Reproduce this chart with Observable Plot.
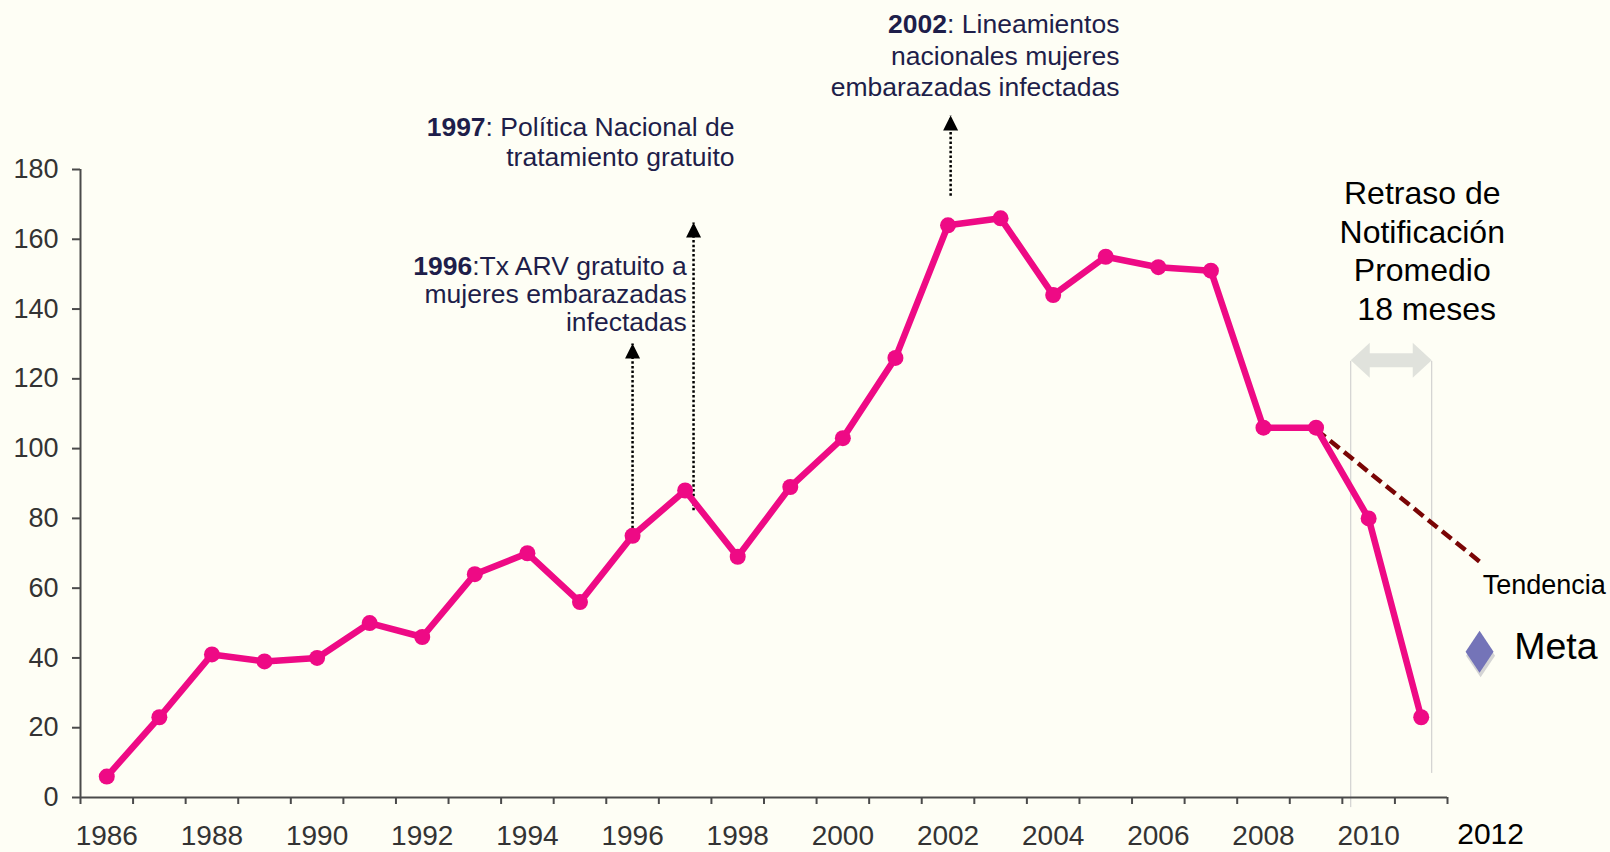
<!DOCTYPE html>
<html>
<head>
<meta charset="utf-8">
<script src="https://cdn.jsdelivr.net/npm/d3@7"></script>
<script src="https://cdn.jsdelivr.net/npm/@observablehq/plot@0.6"></script>
<style>
  html, body { margin: 0; padding: 0; background: #FEFEF5; }
  #chart { width: 1610px; height: 852px; }
</style>
</head>
<body>
<div id="chart"></div>
<script>
// ---- data ----
const years = [1986, 1987, 1988, 1989, 1990, 1991, 1992, 1993, 1994, 1995, 1996, 1997, 1998,
               1999, 2000, 2001, 2002, 2003, 2004, 2005, 2006, 2007, 2008, 2009, 2010, 2011];
const cases = [6, 23, 41, 39, 40, 50, 46, 64, 70, 56, 75, 88, 69,
               89, 103, 126, 164, 166, 144, 155, 152, 151, 106, 106, 80, 23];
const yTicks = [0, 20, 40, 60, 80, 100, 120, 140, 160, 180];
const xTickLabels = [1986, 1988, 1990, 1992, 1994, 1996, 1998, 2000, 2002, 2004, 2006, 2008, 2010];
const xBoundaries = [1985.5, 1986.5, 1987.5, 1988.5, 1989.5, 1990.5, 1991.5, 1992.5, 1993.5,
                     1994.5, 1995.5, 1996.5, 1997.5, 1998.5, 1999.5, 2000.5, 2001.5, 2002.5,
                     2003.5, 2004.5, 2005.5, 2006.5, 2007.5, 2008.5, 2009.5, 2010.5, 2011.5];
const trendFrom = {year: 2009, value: 105.5};
const trendTo = {year: 2012.13, value: 67.4};
const metaPoint = {year: 2012.11, value: 41.8};
const annot1996 = "1996:Tx ARV gratuito a\nmujeres embarazadas\ninfectadas";
const annot1997 = "1997: Política Nacional de\ntratamiento gratuito";
const annot2002 = "2002: Lineamientos\nnacionales mujeres\nembarazadas infectadas";
const delayText = "Retraso de\nNotificación\nPromedio\n 18 meses";

const series = years.map((y, i) => ({year: y, value: cases[i]}));

// ---- custom symbols ----
function headUp(w, h) {
  return { draw(ctx) { ctx.moveTo(0, 0); ctx.lineTo(w / 2, h); ctx.lineTo(-w / 2, h); ctx.closePath(); } };
}
function tallDiamond(w, h) {
  return { draw(ctx) { ctx.moveTo(0, -h / 2); ctx.lineTo(w / 2, 0); ctx.lineTo(0, h / 2); ctx.lineTo(-w / 2, 0); ctx.closePath(); } };
}

const PINK = "#EE0A85";
const NAVY = "#1E1E4A";
const AXIS = "#4a4a4a";
const FONT = "'Liberation Sans', Arial, Helvetica, sans-serif";

const arrows = [
  {x: 1996.0, y1: 74.5, y2: 130.1},
  {x: 1997.16, y1: 82.3, y2: 164.8},
  {x: 2002.05, y1: 172.5, y2: 195.5}
];

const chart = Plot.plot({
  width: 1610,
  height: 852,
  marginLeft: 80,
  marginRight: 163,
  marginTop: 169,
  marginBottom: 55,
  x: {type: "linear", domain: [1985.5, 2011.5], label: null},
  y: {domain: [0, 180], label: null},
  style: {background: "#FEFEF5", fontFamily: FONT, color: "#333", overflow: "visible"},
  marks: [
    // notification delay band
    Plot.ruleX([2009.66], {y1: -2.9, y2: 125, stroke: "#c9c9c9", strokeWidth: 1}),
    Plot.ruleX([2011.2], {y1: 6.9, y2: 125, stroke: "#c9c9c9", strokeWidth: 1}),
    Plot.ruleY([125.3], {x1: 2009.95, x2: 2010.9, stroke: "#e0e2dc", strokeWidth: 14}),
    Plot.dot([0], {x: () => 2009.66, y: () => 125.3, symbol: headUp(35, 19), rotate: -90, fill: "#e0e2dc", r: 10}),
    Plot.dot([0], {x: () => 2011.2, y: () => 125.3, symbol: headUp(35, 19), rotate: 90, fill: "#e0e2dc", r: 10}),
    Plot.text([delayText], {x: () => 2011.02, y: () => 157.0, fontSize: 32, lineHeight: 1.2, fill: "#000", textAnchor: "middle"}),

    // axes
    Plot.axisY({ticks: yTicks, tickSize: 8, tickPadding: 14, fontSize: 27, stroke: AXIS, strokeWidth: 2, fill: "#333"}),
    Plot.axisX({ticks: xBoundaries, tickSize: 7, tickFormat: () => "", stroke: AXIS, strokeWidth: 2}),
    Plot.axisX({ticks: xTickLabels, tickSize: 0, tickPadding: 28, fontSize: 28, tickFormat: d => String(d), fill: "#333"}),
    Plot.ruleX([1985.5], {y1: 0, y2: 180, stroke: AXIS, strokeWidth: 2}),
    Plot.ruleY([0], {x1: 1985.5, x2: 2011.5, stroke: AXIS, strokeWidth: 2}),
    Plot.text(["2012"], {x: () => 2012.32, y: () => 0, dy: 37, fontSize: 30, fill: "#000"}),

    // event arrows
    Plot.link(arrows, {x1: "x", x2: "x", y1: "y1", y2: "y2", stroke: "#000", strokeWidth: 2.5, strokeDasharray: "2.5,2.2"}),
    Plot.dot(arrows, {x: "x", y: "y2", symbol: headUp(15, 15), fill: "#000", r: 5}),

    // trend
    Plot.link([0], {x1: () => trendFrom.year, y1: () => trendFrom.value, x2: () => trendTo.year, y2: () => trendTo.value,
                    stroke: "#7A0505", strokeWidth: 4.5, strokeDasharray: "12,6"}),

    // main series
    Plot.line(series, {x: "year", y: "value", stroke: PINK, strokeWidth: 6.5, strokeLinejoin: "round"}),
    Plot.dot(series, {x: "year", y: "value", fill: PINK, r: 8}),

    // annotations
    Plot.text([annot1996], {x: () => 1997.03, y: () => 144.2, fontSize: 26.5, lineHeight: 1.06, textAnchor: "end", fill: NAVY, className: "annot"}),
    Plot.text([annot1997], {x: () => 1997.94, y: () => 188.1, fontSize: 26.5, lineHeight: 1.16, textAnchor: "end", fill: NAVY, className: "annot"}),
    Plot.text([annot2002], {x: () => 2005.26, y: () => 213.0, fontSize: 26.5, lineHeight: 1.2, textAnchor: "end", fill: NAVY, className: "annot"}),

    // legend-like labels
    Plot.text(["Tendencia"], {x: () => 2012.17, y: () => 60.8, fontSize: 27, textAnchor: "start", fill: "#000"}),
    Plot.dot([metaPoint], {x: "year", y: "value", symbol: tallDiamond(29, 43), fill: "#d4d4d4", r: 10, dx: 1, dy: 4}),
    Plot.dot([metaPoint], {x: "year", y: "value", symbol: tallDiamond(28, 42), fill: "#7474B8", r: 10}),
    Plot.text(["Meta"], {x: () => 2012.77, y: () => 43, fontSize: 37.5, textAnchor: "start", fill: "#000"})
  ]
});

// bold year prefixes in annotations
d3.select(chart).selectAll("g.annot text, g.annot tspan").each(function() {
  if (this.childNodes.length !== 1 || this.firstChild.nodeType !== 3) return;
  const m = /^(\d{4})(:.*)$/.exec(this.textContent);
  if (!m) return;
  const sel = d3.select(this);
  sel.text("");
  sel.append("tspan").attr("font-weight", "bold").text(m[1]);
  sel.append("tspan").text(m[2]);
});

document.getElementById("chart").appendChild(chart);
</script>
</body>
</html>
